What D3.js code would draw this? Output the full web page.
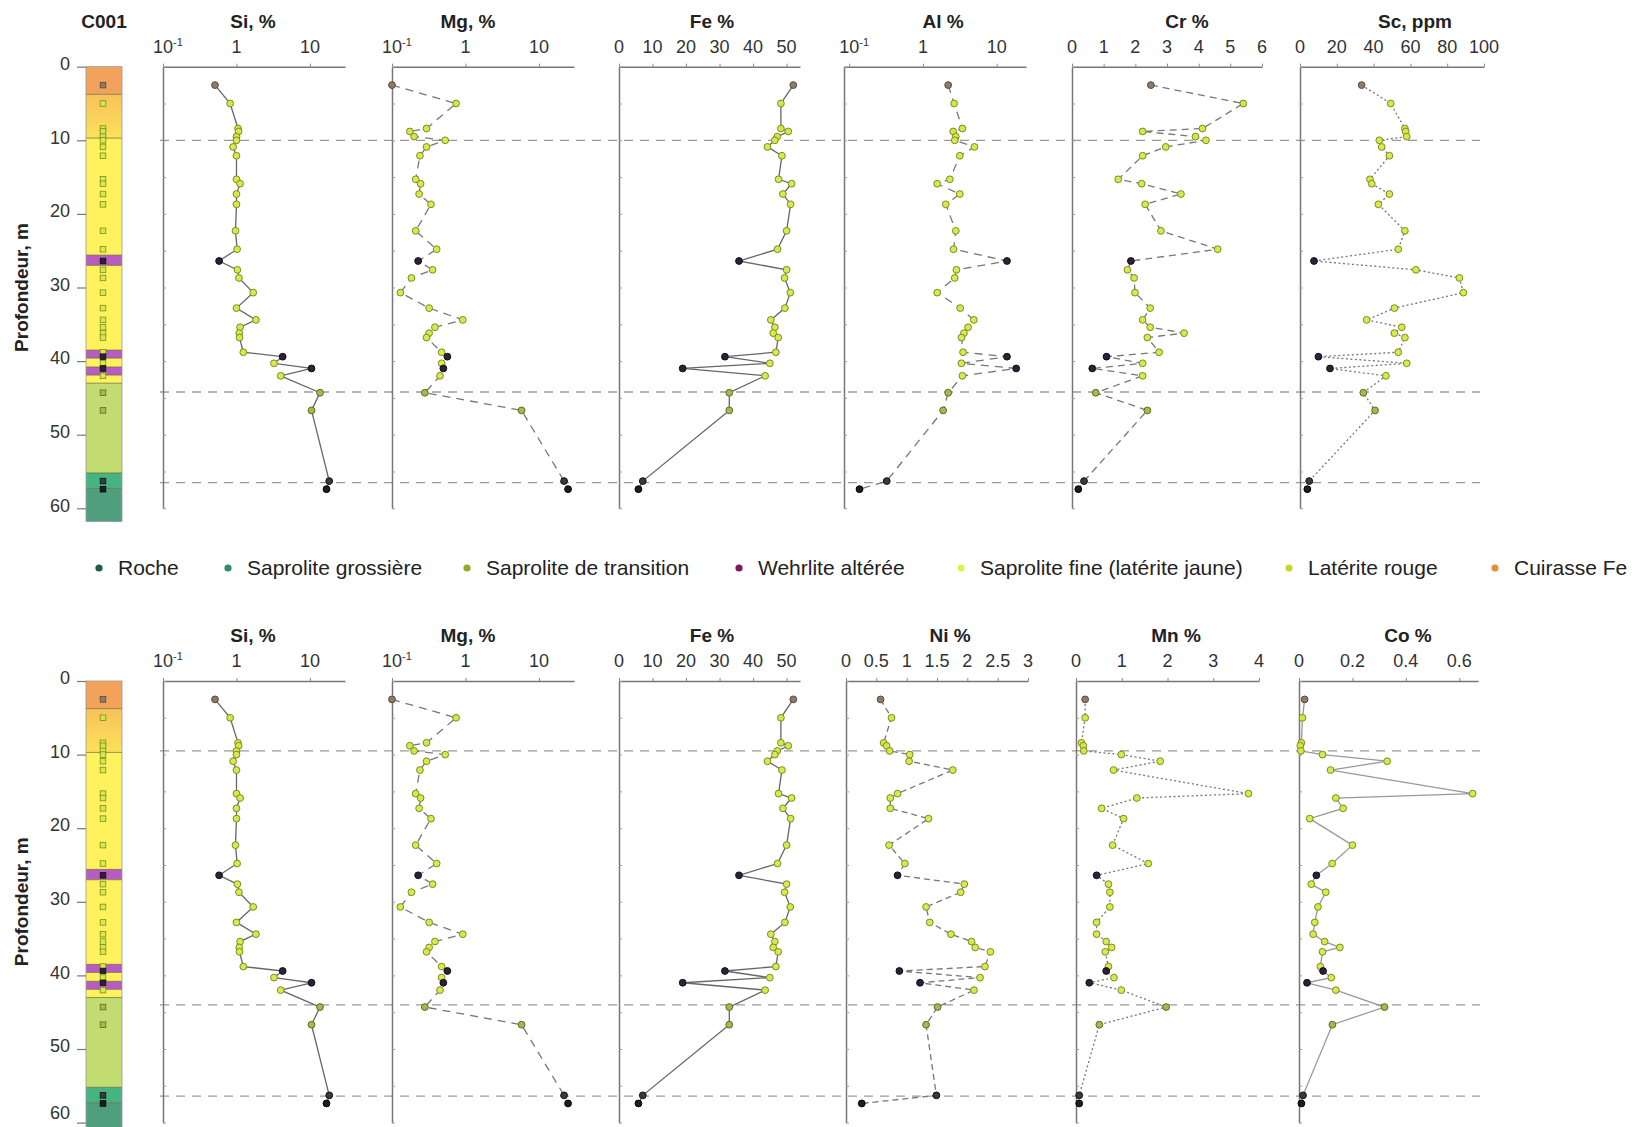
<!DOCTYPE html>
<html><head><meta charset="utf-8">
<script src="https://cdn.jsdelivr.net/npm/d3@7"></script>
<style>
body{margin:0;background:#fff}
svg{display:block}
text{font-family:"Liberation Sans",Arial,sans-serif}
</style>
</head><body>
<svg id="c" width="1638" height="1127"></svg>
<script>
// ---------------- DATA ----------------
const sampleDepths = [2.5,5.0,8.4,8.8,9.5,10.0,10.9,12.1,15.3,15.9,17.3,18.7,22.3,24.8,26.4,27.6,28.7,30.7,32.8,34.4,35.4,36.2,36.8,38.8,39.4,40.3,41.0,42.0,44.3,46.7,56.3,57.4];
const sampleFacies = ["cui","lat","lat","lat","lat","sap","sap","sap","sap","sap","sap","sap","sap","sap","weh","sap","sap","sap","sap","sap","sap","sap","sap","sap","weh","sap","weh","sap","tra","tra","gro","roc"];

const si = [0.51,0.82,1.05,1.07,1.0,1.0,0.9,1.0,1.0,1.12,1.0,1.0,0.97,1.02,0.58,1.03,1.08,1.69,1.0,1.84,1.12,1.09,1.1,1.24,4.25,3.24,10.5,4.0,13.7,10.5,18.3,16.8];
const mg = [0.1,0.745,0.295,0.175,0.2,0.53,0.295,0.24,0.21,0.245,0.234,0.339,0.21,0.405,0.227,0.357,0.184,0.13,0.32,0.92,0.384,0.32,0.295,0.474,0.567,0.474,0.5,0.45,0.28,5.8,22,24.9];
const fe = [52.0,48.3,48.3,50.5,47.2,46.5,44.3,48.6,47.6,51.5,48.9,51.2,50.0,47.3,35.8,50.0,49.4,51.1,49.5,45.3,46.5,46.0,47.5,46.8,31.6,45.0,19.0,43.6,32.9,32.9,7.1,5.8];
const al = [2.2,2.65,3.43,2.57,2.79,2.7,5.0,3.16,2.32,1.56,3.16,2.04,2.79,2.6,13.8,2.85,2.7,1.56,3.2,4.9,4.1,3.6,3.33,3.5,13.8,3.33,18.4,3.43,2.2,1.88,0.323,0.138];
const cr = [2.49,5.41,4.12,2.23,3.9,4.23,2.96,2.23,1.46,2.2,3.44,2.31,2.81,4.6,1.86,1.75,1.96,1.99,2.47,2.23,2.47,3.54,2.38,2.75,1.09,2.23,0.64,2.23,0.75,2.38,0.38,0.2];
const sc = [33.5,49.3,57,57.4,58,43.1,44.4,48.6,38,39,48.6,42.6,57,53.4,7.6,63,86.6,88.8,51.3,36.2,55.3,51.3,57,53.4,10,58,16.3,46.7,34.4,40.8,5,4];
const ni = [0.57,0.75,0.62,0.67,0.72,1.05,1.04,1.76,0.85,0.73,0.73,1.36,0.71,0.97,0.85,1.95,1.89,1.32,1.38,1.73,2.07,2.13,2.38,2.29,0.88,2.21,1.22,2.11,1.51,1.32,1.49,0.26];
const mn = [0.2,0.2,0.12,0.16,0.17,0.99,1.84,0.82,3.77,1.33,0.56,1.04,0.8,1.58,0.45,0.71,0.74,0.74,0.45,0.45,0.66,0.78,0.64,0.71,0.66,0.83,0.29,0.99,1.97,0.51,0.07,0.07];
const co = [0.021,0.013,0.009,0.005,0.007,0.088,0.33,0.118,0.65,0.138,0.165,0.04,0.2,0.124,0.065,0.046,0.1,0.071,0.059,0.053,0.096,0.153,0.088,0.08,0.09,0.121,0.03,0.138,0.32,0.125,0.015,0.009];

const layerTops    = [0,3.75,9.7,25.6,27.0,38.5,39.6,40.8,41.9,43.0,55.2,57.3];
const layerBottoms = [3.75,9.7,25.6,27.0,38.5,39.6,40.8,41.9,43.0,55.2,57.3,61.8];
const layerFacies  = ["cui","lat","sap","weh","sap","weh","sap","weh","sap","tra","gro","roc"];

const boundaryDepthsTop = [10.0,44.2,56.5];
const boundaryDepthsBottom = [9.5,44.0,56.4];

const depthTicks = [0,10,20,30,40,50,60];
const logTicks = [0.1,1,10];
const feTicks = [0,10,20,30,40,50];
const crTicks = [0,1,2,3,4,5,6];
const scTicks = [0,20,40,60,80,100];
const niTicks = [0,0.5,1,1.5,2,2.5,3];
const mnTicks = [0,1,2,3,4];
const coTicks = [0,0.2,0.4,0.6];

const legendKeys = ["roc","gro","tra","weh","sap","lat","cui"];
const legendLabels = ["Roche","Saprolite grossière","Saprolite de transition","Wehrlite altérée","Saprolite fine (latérite jaune)","Latérite rouge","Cuirasse Fe"];

// ---------------- STYLE / LAYOUT ----------------
const legendColor = {roc:"#1E5B4A",gro:"#2D8C6C",tra:"#92AA2C",weh:"#7B1B62",sap:"#E3EE55",lat:"#C6D62E",cui:"#E98B3C"};
const columnColor = {cui:"#F2A25A",lat:"url(#latGrad)",sap:"#FFF25C",weh:"#B85BC2",tra:"#C3DC72",gro:"#45B482",roc:"#4F9E7D"};
const markFill = {cui:"#8B7B6B",lat:"#D4E64A",sap:"#D8E84E",weh:"#2E1F3A",tra:"#A9B84C",gro:"#3A3A3A",roc:"#1E1E1E"};
const markStroke = {cui:"#5A4A3A",lat:"#7C8C22",sap:"#7C8C22",weh:"#111",tra:"#5B6B25",gro:"#111",roc:"#000"};

const panelSpecs = {
  Si:{title:"Si, %",  values:si, type:"log", domain:[0.1,30],  range:[163,345],  ticks:logTicks, titleX:253, dash:null,   stroke:"#666"},
  Mg:{title:"Mg, %",  values:mg, type:"log", domain:[0.1,30],  range:[392,574],  ticks:logTicks, titleX:468, dash:"8,6",  stroke:"#777"},
  Fe:{title:"Fe %",   values:fe, type:"lin", domain:[0,54],    range:[619,800],  ticks:feTicks,  titleX:712, dash:null,   stroke:"#666"},
  Al:{title:"Al %",   values:al, type:"log", domain:[0.085,25],range:[844,1026], ticks:logTicks, titleX:943, dash:"8,6",  stroke:"#777"},
  Cr:{title:"Cr %",   values:cr, type:"lin", domain:[0,6],     range:[1072,1262],ticks:crTicks,  titleX:1187,dash:"7,5",  stroke:"#777"},
  Sc:{title:"Sc, ppm",values:sc, type:"lin", domain:[0,100],   range:[1300,1484],ticks:scTicks,  titleX:1415,dash:"2,2.5",stroke:"#777"},
  Ni:{title:"Ni %",   values:ni, type:"lin", domain:[0,3],     range:[846,1028], ticks:niTicks,  titleX:950, dash:"6,4",  stroke:"#777"},
  Mn:{title:"Mn %",   values:mn, type:"lin", domain:[0,4],     range:[1076,1259],ticks:mnTicks,  titleX:1176,dash:"2,2.5",stroke:"#777"},
  Co:{title:"Co %",   values:co, type:"lin", domain:[0,0.67],  range:[1299,1478],ticks:coTicks,  titleX:1408,dash:null,   stroke:"#999"}
};

const rows = [
  {top:66.7, panels:["Si","Mg","Fe","Al","Cr","Sc"], bounds:boundaryDepthsTop, id:"C001"},
  {top:681,  panels:["Si","Mg","Fe","Ni","Mn","Co"], bounds:boundaryDepthsBottom, id:null}
];

const svg = d3.select("#c");
const defs = svg.append("defs");
const g0 = defs.append("linearGradient").attr("id","latGrad").attr("x1",0).attr("y1",0).attr("x2",0).attr("y2",1);
g0.append("stop").attr("offset","0%").attr("stop-color","#F7C25A");
g0.append("stop").attr("offset","100%").attr("stop-color","#FCE159");

const colX0 = 86, colX1 = 122;
const H = 1127;

rows.forEach(row => {
  const g = svg.append("g");
  const y = d3.scaleLinear().domain([0,60]).range([row.top, row.top + 441.6]);

  // Lithological column
  const col = g.append("g");
  col.selectAll("rect.layer").data(layerFacies).join("rect")
    .attr("class","layer")
    .attr("x",colX0).attr("width",colX1-colX0)
    .attr("y",(d,i)=>y(layerTops[i]))
    .attr("height",(d,i)=>y(layerBottoms[i])-y(layerTops[i]))
    .attr("fill",d=>columnColor[d]);
  col.selectAll("line.lb").data(layerTops.slice(1)).join("line")
    .attr("class","lb")
    .attr("x1",colX0).attr("x2",colX1)
    .attr("y1",d=>y(d)).attr("y2",d=>y(d))
    .attr("stroke","#6a6a3a").attr("stroke-width",1).attr("opacity",0.7);
  col.append("rect").attr("x",colX0).attr("y",y(0)).attr("width",colX1-colX0)
    .attr("height",y(61.8)-y(0)).attr("fill","none").attr("stroke","#999").attr("stroke-width",0.8);
  col.selectAll("rect.sm").data(sampleDepths).join("rect")
    .attr("class","sm")
    .attr("x",103-2.8).attr("y",d=>y(d)-2.8).attr("width",5.6).attr("height",5.6)
    .attr("fill",(d,i)=>markFill[sampleFacies[i]])
    .attr("stroke",(d,i)=>markStroke[sampleFacies[i]]).attr("stroke-width",0.8);

  // depth axis
  const da = g.append("g").attr("transform",`translate(${colX0},0)`)
    .call(d3.axisLeft(y).tickValues(depthTicks).tickSize(9).tickFormat(d3.format("d")));
  da.select(".domain").remove();
  da.selectAll(".tick line").attr("stroke","#777").attr("stroke-width",1.2);
  da.selectAll(".tick text").attr("font-size",18).attr("fill","#333").attr("x",-16)
    .attr("y",d=>Math.min(-3, H - 14 - y(d)))
    .attr("font-family","Liberation Sans, Arial, sans-serif");

  g.append("text").attr("transform",`translate(28,${y(30)}) rotate(-90)`)
    .attr("text-anchor","middle").attr("font-size",19).attr("font-weight","bold").attr("fill","#222")
    .text("Profondeur, m");
  if (row.id) {
    g.append("text").attr("x",104).attr("y",row.top-39).attr("text-anchor","middle")
      .attr("font-size",19).attr("font-weight","bold").attr("fill","#222").text(row.id);
  }

  // dashed boundaries
  g.selectAll("line.bd").data(row.bounds).join("line")
    .attr("class","bd")
    .attr("x1",160).attr("x2",1480).attr("y1",d=>y(d)).attr("y2",d=>y(d))
    .attr("stroke","#9a9a9a").attr("stroke-width",1.3).attr("stroke-dasharray","9,7");

  // panels
  row.panels.forEach(key => {
    const p = panelSpecs[key];
    const x = (p.type==="log" ? d3.scaleLog() : d3.scaleLinear()).domain(p.domain).range(p.range);
    const pg = g.append("g");

    pg.append("text").attr("x",p.titleX).attr("y",row.top-39).attr("text-anchor","middle")
      .attr("font-size",19).attr("font-weight","bold").attr("fill","#222").text(p.title);

    const ta = pg.append("g").attr("transform",`translate(0,${row.top})`)
      .call(d3.axisTop(x).tickValues(p.ticks).tickSize(3).tickSizeOuter(0).tickFormat(""));
    ta.select(".domain").attr("stroke","#777").attr("stroke-width",1.5);
    ta.selectAll(".tick line").attr("stroke","#888");
    p.ticks.forEach(t => {
      const tx = pg.append("text").attr("x",x(t)).attr("y",row.top-14)
        .attr("text-anchor","middle").attr("font-size",18).attr("fill","#333");
      if (p.type==="log" && t===0.1) {
        tx.attr("text-anchor","start").attr("x",x(t)-10);
        tx.append("tspan").text("10");
        tx.append("tspan").attr("font-size",11).attr("dy",-7).text("-1");
      } else {
        tx.text(String(t));
      }
    });

    const la = pg.append("g").attr("transform",`translate(${p.range[0]},0)`)
      .call(d3.axisRight(y).tickValues(d3.range(0,61,5)).tickSize(3).tickSizeOuter(0).tickFormat(""));
    la.select(".domain").attr("stroke","#777").attr("stroke-width",1.5);
    la.selectAll(".tick line").attr("stroke","#999");

    const pts = p.values.map((v,i)=>({v, d:sampleDepths[i], f:sampleFacies[i]}));
    const line = d3.line().x(d=>x(d.v)).y(d=>y(d.d));
    pg.append("path").datum(pts).attr("d",line)
      .attr("fill","none").attr("stroke",p.stroke).attr("stroke-width",1.3)
      .attr("stroke-dasharray",p.dash);
    pg.selectAll("circle").data(pts).join("circle")
      .attr("cx",d=>x(d.v)).attr("cy",d=>y(d.d)).attr("r",3.4)
      .attr("fill",d=>markFill[d.f]).attr("stroke",d=>markStroke[d.f]).attr("stroke-width",1);
  });
});

// legend
const legendX = [99,228,467,739,961,1289,1495];
const lg = svg.append("g");
legendKeys.forEach((k,i) => {
  lg.append("circle").attr("cx",legendX[i]).attr("cy",568).attr("r",3.6).attr("fill",legendColor[k]);
  lg.append("text").attr("x",legendX[i]+19).attr("y",575).attr("font-size",21).attr("fill","#222")
    .text(legendLabels[i]);
});
</script>
</body></html>
